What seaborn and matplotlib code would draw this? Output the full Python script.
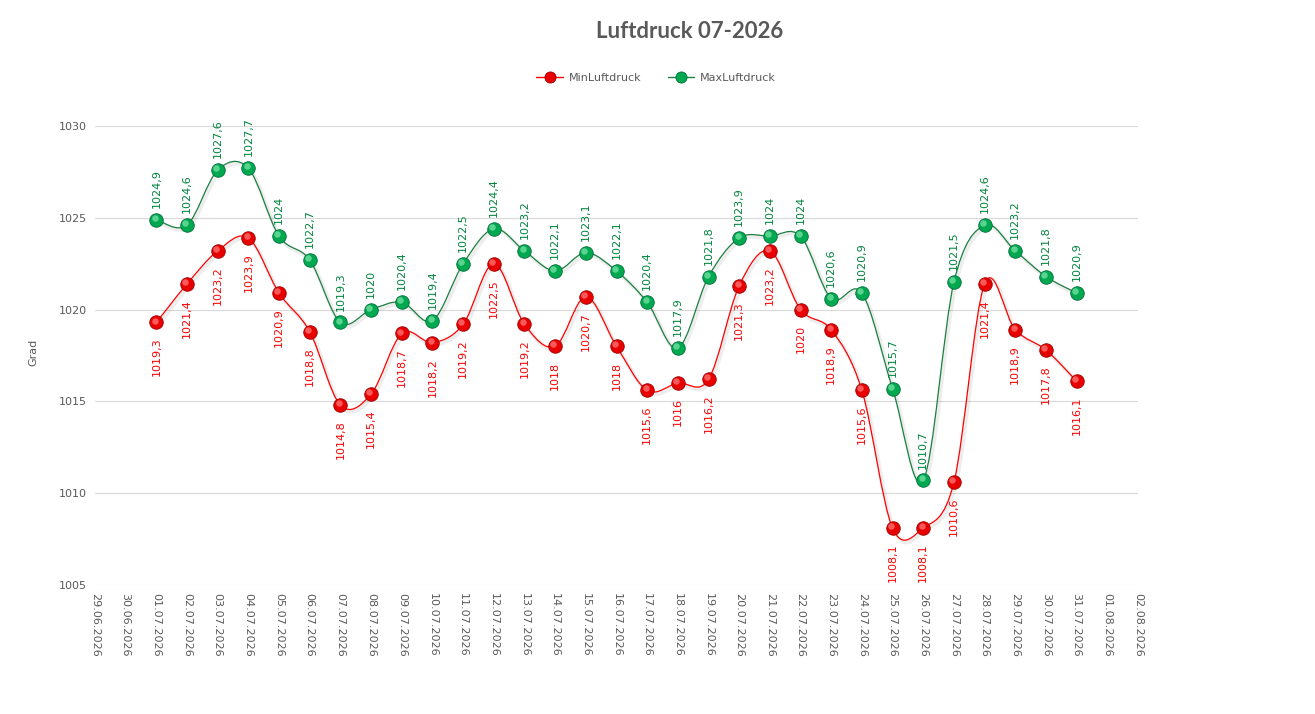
"""
Luftdruck Juli 2026 - Min/Max Tageswerte
"""

import pandas as pd
import numpy as np
import matplotlib
matplotlib.use('Agg')
import matplotlib.pyplot as plt
import matplotlib.dates as mdates
import matplotlib.transforms as mtransforms
import matplotlib.patheffects as pe
from matplotlib.path import Path
from matplotlib.patches import PathPatch
from matplotlib.lines import Line2D
import seaborn as sns

# Daten
tage = pd.date_range('2026-07-01', '2026-07-31')
achse_tage = pd.date_range('2026-06-29', '2026-08-02')

min_luftdruck = [1019.3, 1021.4, 1023.2, 1023.9, 1020.9, 1018.8, 1014.8, 1015.4,
                 1018.7, 1018.2, 1019.2, 1022.5, 1019.2, 1018.0, 1020.7, 1018.0,
                 1015.6, 1016.0, 1016.2, 1021.3, 1023.2, 1020.0, 1018.9, 1015.6,
                 1008.1, 1008.1, 1010.6, 1021.4, 1018.9, 1017.8, 1016.1]
max_luftdruck = [1024.9, 1024.6, 1027.6, 1027.7, 1024.0, 1022.7, 1019.3, 1020.0,
                 1020.4, 1019.4, 1022.5, 1024.4, 1023.2, 1022.1, 1023.1, 1022.1,
                 1020.4, 1017.9, 1021.8, 1023.9, 1024.0, 1024.0, 1020.6, 1020.9,
                 1015.7, 1010.7, 1021.5, 1024.6, 1023.2, 1021.8, 1020.9]
y_ticks = [1005, 1010, 1015, 1020, 1025, 1030]

GRAU = '#595959'
ROT_LINIE, ROT_PUNKT, ROT_RAND, ROT_HELL = '#FF0000', '#E80000', '#A00000', '#FF7070'
GRUEN_LINIE, GRUEN_PUNKT, GRUEN_RAND, GRUEN_HELL = '#1A8040', '#00A850', '#00703A', '#70E0A0'
ROT_TEXT, GRUEN_TEXT = '#FF0000', '#00843D'

sns.set_style("white")
plt.rcParams['font.family'] = ['DejaVu Sans']


def smooth_path(x, y):
    """Geglaettete Linie wie in Excel (Catmull-Rom als Bezier)"""
    pts = np.column_stack([x, y])
    n = len(pts)
    verts = [pts[0]]
    codes = [Path.MOVETO]
    for i in range(n - 1):
        p0 = pts[max(i - 1, 0)]
        p1 = pts[i]
        p2 = pts[i + 1]
        p3 = pts[min(i + 2, n - 1)]
        verts += [p1 + (p2 - p0) / 6, p2 - (p3 - p1) / 6, p2]
        codes += [Path.CURVE4] * 3
    return Path(verts, codes)


def draw_series(ax, xnum, werte, linie, punkt, rand, hell, text_farbe, oben):
    patch = PathPatch(smooth_path(xnum, werte), facecolor='none', edgecolor=linie,
                      lw=0.9, zorder=3)
    patch.set_path_effects([pe.SimpleLineShadow(offset=(1.2, -1.5), shadow_color='#000000',
                                                alpha=0.07, linewidth=3), pe.Normal()])
    ax.add_patch(patch)

    df = pd.DataFrame({'x': xnum, 'y': werte})
    sns.scatterplot(data=df, x='x', y='y', ax=ax, s=95, color=punkt, edgecolor=rand,
                    linewidth=0.6, zorder=4, legend=False)
    off = mtransforms.ScaledTranslation(-1.2 / 72, 1.4 / 72, ax.figure.dpi_scale_trans)
    ax.scatter(xnum, werte, s=22, color=hell, linewidths=0, alpha=0.8,
               transform=ax.transData + off, zorder=5)

    for xv, yv in zip(xnum, werte):
        label = f"{yv:g}".replace('.', ',')
        if oben:
            ax.annotate(label, (xv, yv), xytext=(0, 8.5), textcoords='offset points',
                        rotation=90, ha='center', va='bottom', fontsize=8,
                        color=text_farbe, annotation_clip=False, zorder=6)
        else:
            ax.annotate(label, (xv, yv), xytext=(0, -11), textcoords='offset points',
                        rotation=90, ha='center', va='top', fontsize=8,
                        color=text_farbe, annotation_clip=False, zorder=6)


fig = plt.figure(figsize=(13.15, 7.14), dpi=100)
ax = fig.add_axes([95 / 1315, 1 - 585 / 714, (1138 - 95) / 1315, (585 - 126) / 714])

xnum = mdates.date2num(tage)
achse_num = mdates.date2num(achse_tage)

draw_series(ax, xnum, min_luftdruck, ROT_LINIE, ROT_PUNKT, ROT_RAND, ROT_HELL, ROT_TEXT, False)
draw_series(ax, xnum, max_luftdruck, GRUEN_LINIE, GRUEN_PUNKT, GRUEN_RAND, GRUEN_HELL, GRUEN_TEXT, True)

ax.set_xlim(achse_num[0], achse_num[-1])
ax.set_ylim(y_ticks[0], y_ticks[-1])
ax.set_yticks(y_ticks)
ax.set_yticklabels([str(t) for t in y_ticks], fontsize=8, color=GRAU)
ax.set_xticks(achse_num)
ax.set_xticklabels([d.strftime('%d.%m.%Y') for d in achse_tage], rotation=270,
                   fontsize=8, color=GRAU)
ax.tick_params(axis='both', length=0, pad=6)
ax.grid(axis='y', color='#D9D9D9', lw=0.8)
ax.grid(axis='x', visible=False)
for s in ax.spines.values():
    s.set_visible(False)
ax.set_xlabel('')
ax.set_ylabel('')
ax.set_axisbelow(True)

fig.text(33 / 1315, 1 - 352 / 714, 'Grad', rotation=90, ha='center', va='center',
         fontsize=8, color=GRAU)
fig.text(690 / 1315, 1 - 31 / 714, 'Luftdruck 07-2026', ha='center', va='center',
         fontsize=16, fontweight='bold', color=GRAU, family=['Lato', 'DejaVu Sans'])

handles = [Line2D([], [], color=ROT_LINIE, lw=1, marker='o', markersize=8,
                  markerfacecolor=ROT_PUNKT, markeredgecolor=ROT_RAND, markeredgewidth=0.6),
           Line2D([], [], color=GRUEN_LINIE, lw=1, marker='o', markersize=8,
                  markerfacecolor=GRUEN_PUNKT, markeredgecolor=GRUEN_RAND, markeredgewidth=0.6)]
fig.legend(handles, ['MinLuftdruck', 'MaxLuftdruck'], loc='center',
           bbox_to_anchor=(656 / 1315, 1 - 78 / 714), ncol=2, frameon=False,
           fontsize=8, labelcolor=GRAU, handlelength=2.4, columnspacing=2.4,
           handletextpad=0.5)

fig.savefig('out.png', dpi=100)
